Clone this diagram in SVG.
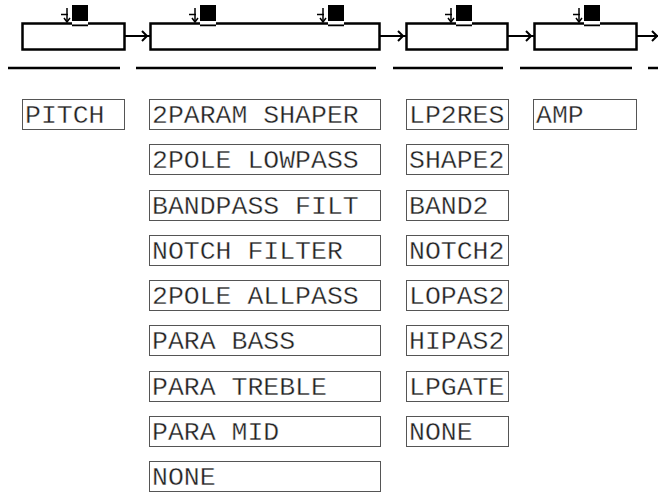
<svg xmlns="http://www.w3.org/2000/svg" width="658" height="493" viewBox="0 0 658 493">
<style>
.blk{fill:#fff;stroke:#000;stroke-width:2.5}
.ul{stroke:#000;stroke-width:2.5}
.item rect{fill:#fff;stroke:#555;stroke-width:1}
.item text{font-family:"Liberation Mono","Courier New",monospace;font-size:26.5px;fill:#222;stroke:#fff;stroke-width:0.35}
.con{stroke:#000;stroke-width:2;fill:none}
</style>
<defs>
<g id="icon">
<rect x="72" y="5" width="16" height="16" fill="#000"/>
<rect x="72" y="21.5" width="16" height="3" fill="#fff"/>
<line x1="72" y1="25.5" x2="88" y2="25.5" stroke="#000" stroke-width="1.5"/>
<line x1="61" y1="14.5" x2="68" y2="14.5" stroke="#000" stroke-width="1.5"/>
<line x1="67" y1="8" x2="67" y2="22" stroke="#000" stroke-width="1.5"/>
<polyline points="64,18 67,22 70,18" fill="none" stroke="#000" stroke-width="1.5"/>
</g>
</defs>
<g id="chain-1"><rect class="blk" x="22.5" y="23.5" width="102" height="26"/><use href="#icon"/></g>
<g id="chain-2"><rect class="blk" x="150.5" y="23.5" width="229" height="26"/><use href="#icon" x="128"/><use href="#icon" x="256"/></g>
<g id="chain-3"><rect class="blk" x="406.5" y="23.5" width="101" height="26"/><use href="#icon" x="384"/></g>
<g id="chain-4"><rect class="blk" x="534.5" y="23.5" width="102" height="26"/><use href="#icon" x="512"/></g>
<g id="connectors">
<line class="con" x1="124.5" y1="36" x2="150" y2="36"/><polyline class="con" points="142,31 147,36 142,41"/>
<line class="con" x1="379.5" y1="36" x2="406" y2="36"/><polyline class="con" points="398,31 403,36 398,41"/>
<line class="con" x1="507.5" y1="36" x2="534" y2="36"/><polyline class="con" points="526,31 531,36 526,41"/>
<line class="con" x1="636.5" y1="36" x2="658" y2="36"/><polyline class="con" points="652,31 657,36 652,41"/>
</g>
<g id="underlines">
<line class="ul" x1="8" y1="68" x2="120" y2="68"/>
<line class="ul" x1="136" y1="68" x2="376" y2="68"/>
<line class="ul" x1="393" y1="68" x2="503" y2="68"/>
<line class="ul" x1="520" y1="68" x2="632" y2="68"/>
<line class="ul" x1="648" y1="68" x2="658" y2="68"/>
</g>
<g id="pitch" class="item"><rect x="22.5" y="99.5" width="102" height="30"/><text x="25" y="123">PITCH</text></g>
<g id="c2-1" class="item"><rect x="149.5" y="99.5" width="231" height="30"/><text x="152" y="123">2PARAM SHAPER</text></g>
<g id="c2-2" class="item"><rect x="149.5" y="144.5" width="231" height="30"/><text x="152" y="168">2POLE LOWPASS</text></g>
<g id="c2-3" class="item"><rect x="149.5" y="190.5" width="231" height="30"/><text x="152" y="214">BANDPASS FILT</text></g>
<g id="c2-4" class="item"><rect x="149.5" y="235.5" width="231" height="30"/><text x="152" y="259">NOTCH FILTER</text></g>
<g id="c2-5" class="item"><rect x="149.5" y="280.5" width="231" height="30"/><text x="152" y="304">2POLE ALLPASS</text></g>
<g id="c2-6" class="item"><rect x="149.5" y="325.5" width="231" height="30"/><text x="152" y="349">PARA BASS</text></g>
<g id="c2-7" class="item"><rect x="149.5" y="371.5" width="231" height="30"/><text x="152" y="395">PARA TREBLE</text></g>
<g id="c2-8" class="item"><rect x="149.5" y="416.5" width="231" height="30"/><text x="152" y="440">PARA MID</text></g>
<g id="c2-9" class="item"><rect x="149.5" y="461.5" width="231" height="30"/><text x="152" y="485">NONE</text></g>
<g id="c3-1" class="item"><rect x="406.5" y="99.5" width="102" height="30"/><text x="409" y="123">LP2RES</text></g>
<g id="c3-2" class="item"><rect x="406.5" y="144.5" width="102" height="30"/><text x="409" y="168">SHAPE2</text></g>
<g id="c3-3" class="item"><rect x="406.5" y="190.5" width="102" height="30"/><text x="409" y="214">BAND2</text></g>
<g id="c3-4" class="item"><rect x="406.5" y="235.5" width="102" height="30"/><text x="409" y="259">NOTCH2</text></g>
<g id="c3-5" class="item"><rect x="406.5" y="280.5" width="102" height="30"/><text x="409" y="304">LOPAS2</text></g>
<g id="c3-6" class="item"><rect x="406.5" y="325.5" width="102" height="30"/><text x="409" y="349">HIPAS2</text></g>
<g id="c3-7" class="item"><rect x="406.5" y="371.5" width="102" height="30"/><text x="409" y="395">LPGATE</text></g>
<g id="c3-8" class="item"><rect x="406.5" y="416.5" width="102" height="30"/><text x="409" y="440">NONE</text></g>
<g id="amp" class="item"><rect x="533.5" y="99.5" width="103" height="30"/><text x="536" y="123">AMP</text></g>
</svg>
